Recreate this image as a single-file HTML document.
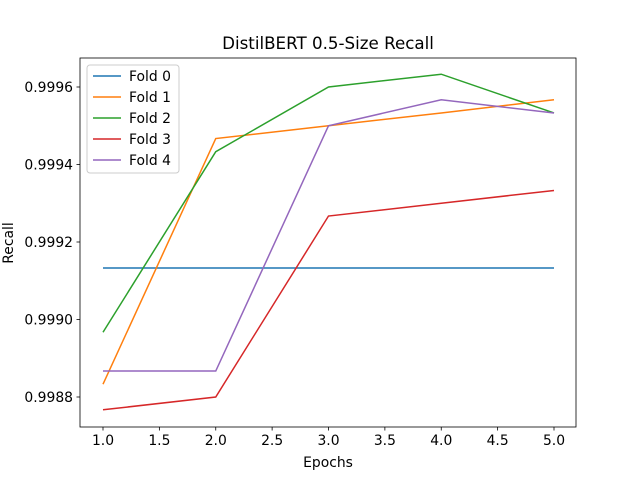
<!DOCTYPE html>
<html><head><meta charset="utf-8"><style>body{margin:0;background:#fff}svg{font-family:"DejaVu Sans","Liberation Sans",sans-serif}</style></head>
<body>
<svg id="c" width="640" height="480"></svg>
<script>
const epochs=[1,2,3,4,5];
const fold0=[0.999133,0.999133,0.999133,0.999133,0.999133];
const fold1=[0.998833,0.999467,0.9995,0.999533,0.999567];
const fold2=[0.998967,0.999433,0.9996,0.999633,0.999533];
const fold3=[0.998767,0.9988,0.999267,0.9993,0.999333];
const fold4=[0.998867,0.998867,0.9995,0.999567,0.999533];
const xTicks=[1.0,1.5,2.0,2.5,3.0,3.5,4.0,4.5,5.0];
const yTicks=[0.9988,0.999,0.9992,0.9994,0.9996];
const series=[["Fold 0",fold0,"#1f77b4"],["Fold 1",fold1,"#ff7f0e"],["Fold 2",fold2,"#2ca02c"],["Fold 3",fold3,"#d62728"],["Fold 4",fold4,"#9467bd"]];
const NS="http://www.w3.org/2000/svg",s=document.getElementById('c');
const L=80,R=576,T=58,B=427;
const X=v=>103+(v-1)*(554-103)/4;
const Y=v=>397-(v-0.9988)*387500;
function el(t,a,txt){const e=document.createElementNS(NS,t);for(const k in a)e.setAttribute(k,a[k]);if(txt!==undefined)e.textContent=txt;s.appendChild(e);return e;}
series.forEach(([n,d,c])=>{const p=el('polyline',{points:d.map((v,i)=>X(epochs[i])+','+Y(v)).join(' '),fill:'none',stroke:c,'stroke-width':1.5});

});
const f=el('rect',{x:L,y:T,width:R-L,height:B-T,fill:'none',stroke:'#000','stroke-width':0.8});

xTicks.forEach(t=>{el('line',{x1:X(t),x2:X(t),y1:B,y2:B+3.5,stroke:'#000','stroke-width':0.8});
const tx=el('text',{x:X(t),y:B+18,'font-size':13.9,'text-anchor':'middle'},t.toFixed(1));
});
yTicks.forEach(t=>{el('line',{x1:L-3.5,x2:L,y1:Y(t),y2:Y(t),stroke:'#000','stroke-width':0.8});
const tx=el('text',{x:L-7,y:Y(t)+5,'font-size':13.9,'text-anchor':'end'},t.toFixed(4));
});
let e=el('text',{x:328,y:467,'font-size':13.9,'text-anchor':'middle'},'Epochs');
e=el('text',{x:13,y:243,'font-size':13.9,'text-anchor':'middle',transform:'rotate(-90 13 243)'},'Recall');
e=el('text',{x:328,y:49,'font-size':16.7,'text-anchor':'middle'},'DistilBERT 0.5-Size Recall');
e=el('rect',{x:87,y:65,width:92,height:108,rx:3,fill:'#fff','fill-opacity':0.8,stroke:'#ccc'});
series.forEach(([n,d,c],i)=>{const y=76+i*21;
el('line',{x1:93,x2:121,y1:y,y2:y,stroke:c,'stroke-width':1.5});
const t=el('text',{x:129,y:y+5,'font-size':13.9},n);});
</script>
</body></html>
